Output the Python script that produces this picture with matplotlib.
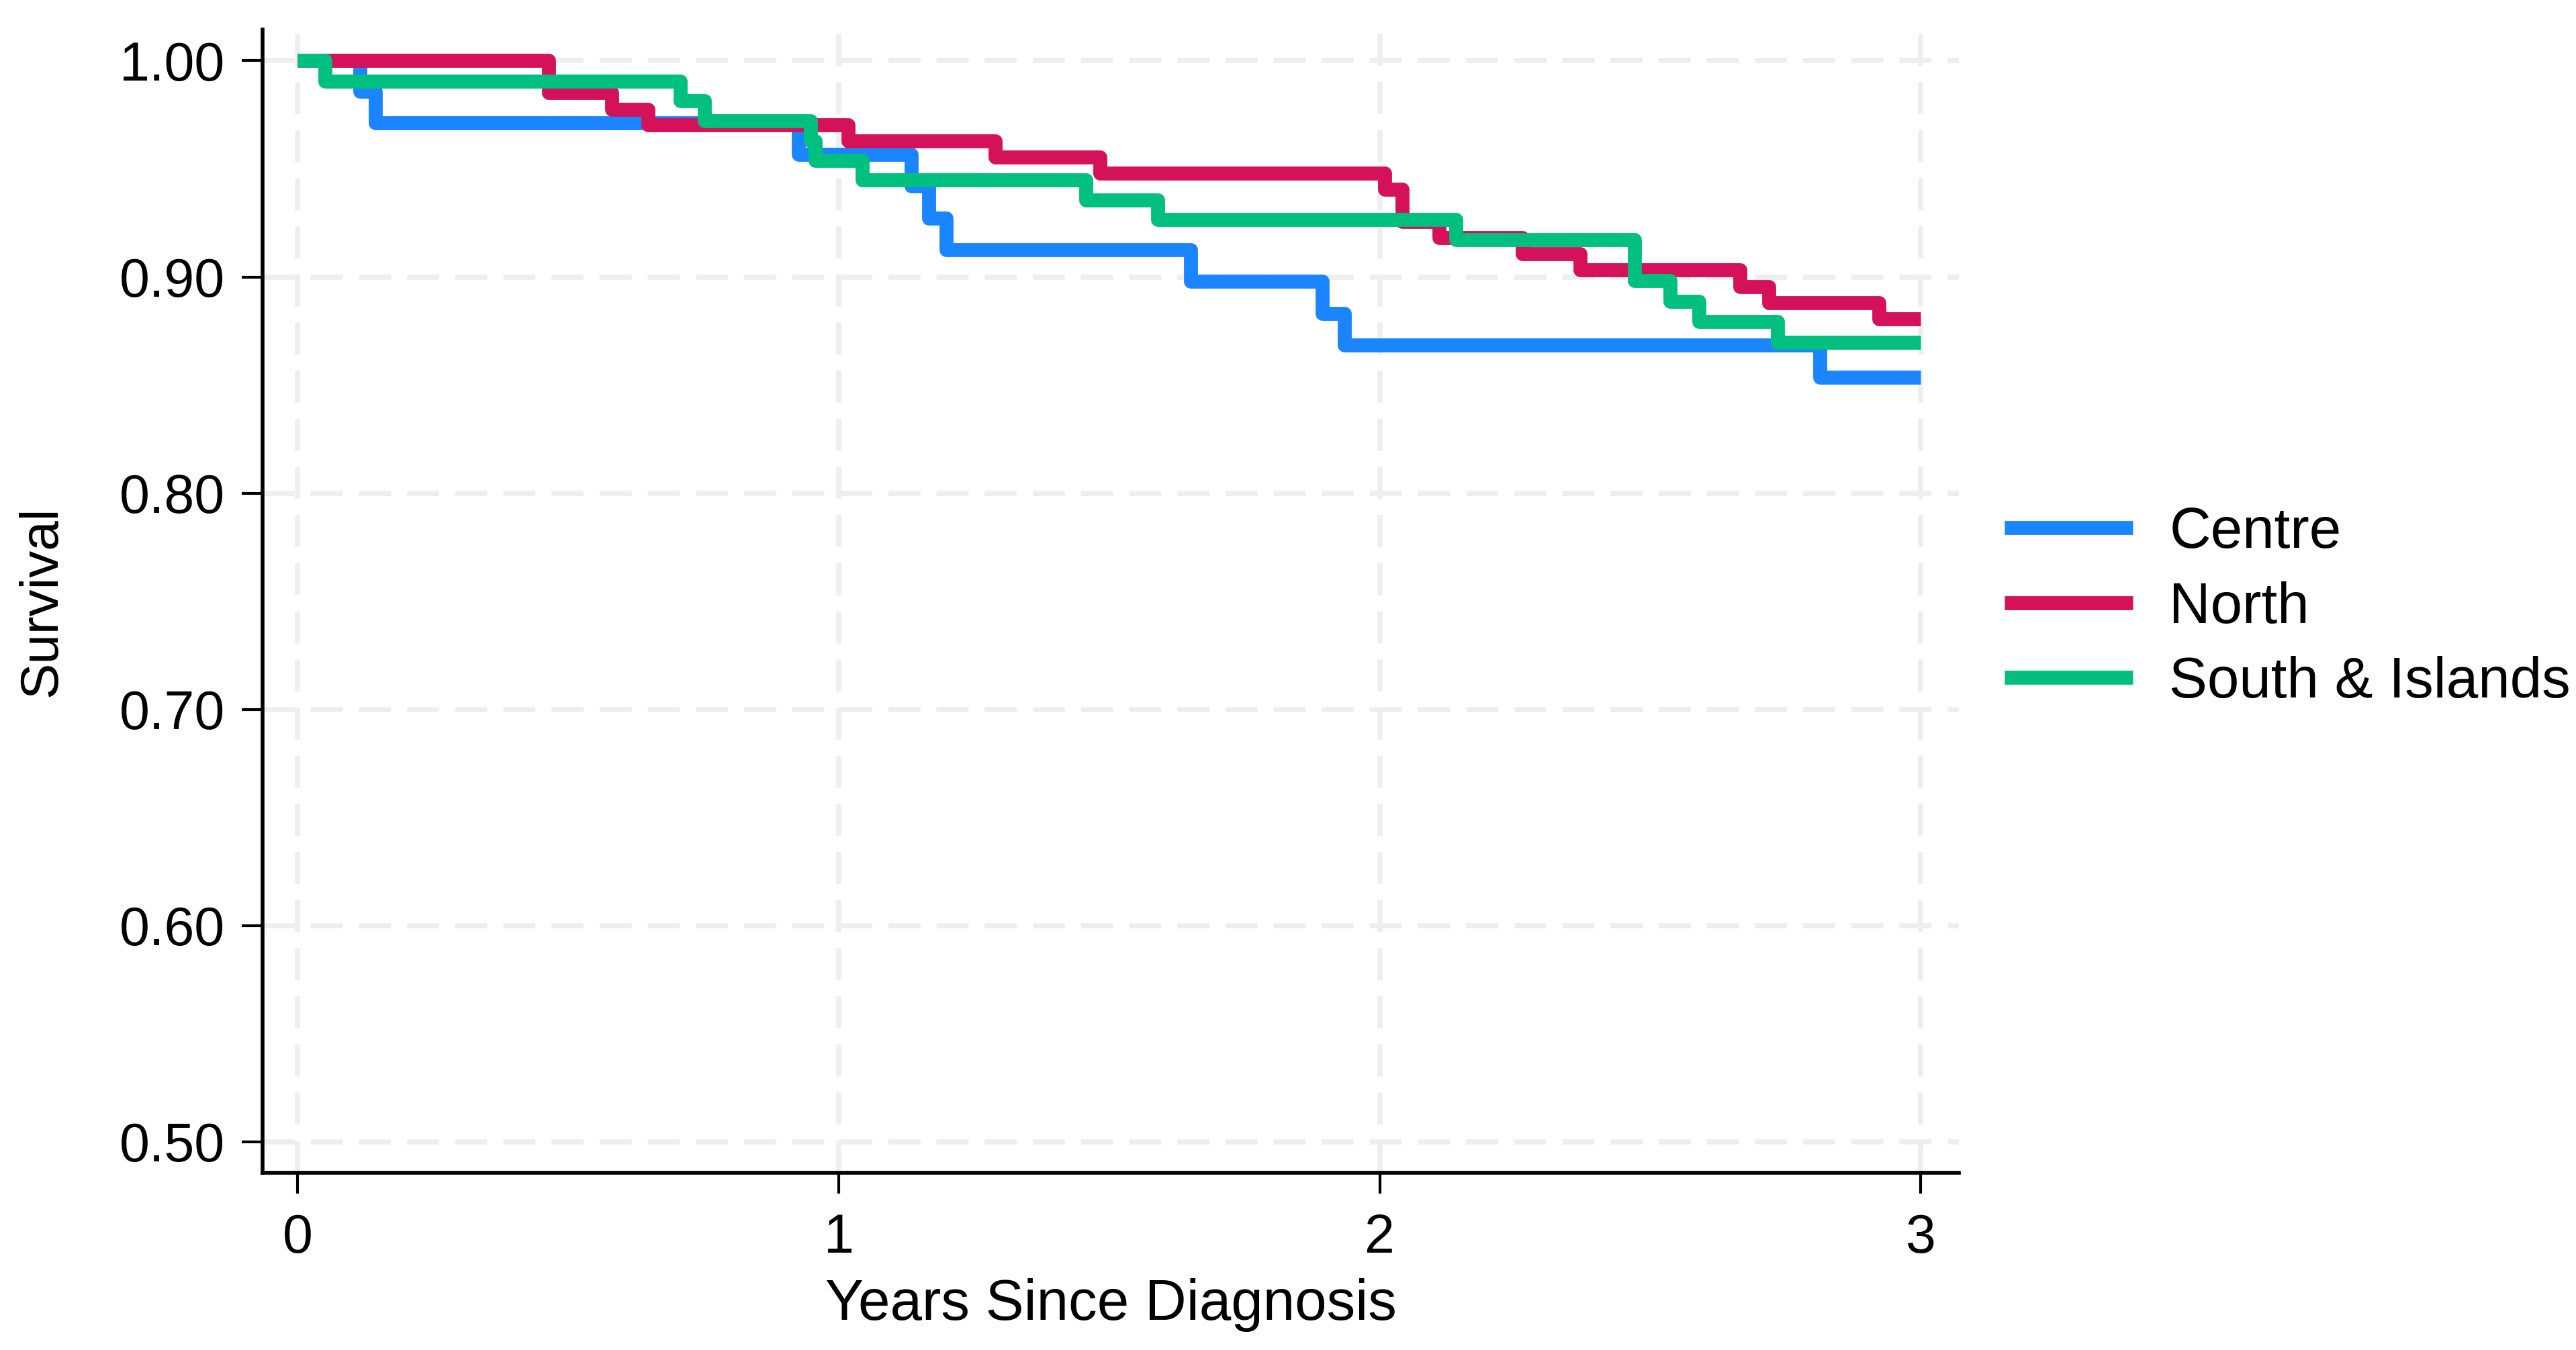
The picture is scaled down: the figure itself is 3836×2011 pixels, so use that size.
import matplotlib
matplotlib.use("Agg")
import matplotlib.pyplot as plt

plt.rcParams['font.family'] = ['Liberation Sans', 'DejaVu Sans']

# ---- data (Kaplan-Meier step functions) ----
groups = ["Centre", "North", "South & Islands"]
colors = ["#1A85FF", "#D41159", "#00BF7F"]

centre_t = [0, 0.115, 0.143, 0.925, 1.134, 1.166, 1.199, 1.650, 1.893, 1.935, 2.813, 3.0]
centre_s = [1.0, 0.9857, 0.9714, 0.9567, 0.9420, 0.9272, 0.9126, 0.8979, 0.8832, 0.8685, 0.8537, 0.8537]

north_t = [0, 0.464, 0.581, 0.648, 1.017, 1.289, 1.483, 2.009, 2.041, 2.110, 2.264, 2.370, 2.666, 2.719, 2.922, 3.0]
north_s = [1.0, 0.9852, 0.9776, 0.9703, 0.9629, 0.9555, 0.9479, 0.9405, 0.9256, 0.9182, 0.9106, 0.9032, 0.8956, 0.8882, 0.8806, 0.8806]

south_t = [0, 0.051, 0.707, 0.752, 0.948, 0.956, 1.043, 1.457, 1.589, 2.140, 2.471, 2.537, 2.590, 2.735, 3.0]
south_s = [1.0, 0.9906, 0.9815, 0.9722, 0.9630, 0.9540, 0.9448, 0.9357, 0.9265, 0.9172, 0.8982, 0.8888, 0.8795, 0.8698, 0.8698]

x_ticks = [0, 1, 2, 3]
y_ticks = [0.50, 0.60, 0.70, 0.80, 0.90, 1.00]
x_label = "Years Since Diagnosis"
y_label = "Survival"

series = [(centre_t, centre_s), (north_t, north_s), (south_t, south_s)]

# ---- figure ----
fig = plt.figure(figsize=(3837 / 300, 2011 / 300), dpi=300)
ax = fig.add_axes([0.1019, 0.1313, 0.7602 - 0.1019, 0.9781 - 0.1313])

for (t, s), name, c in zip(series, groups, colors):
    ax.step(t, s, where='post', color=c, lw=5.0, label=name,
            solid_joinstyle='round', solid_capstyle='butt', zorder=3)

ax.set_xlim(-0.065, 3.07)
ax.set_ylim(0.4857, 1.0144)
ax.set_xticks(x_ticks)
ax.set_xticklabels([str(v) for v in x_ticks])
ax.set_yticks(y_ticks)
ax.set_yticklabels([f"{v:.2f}" for v in y_ticks])

ax.grid(True, color='#EEEEEE', lw=1.85, linestyle=(0, (6.2, 3.1)), zorder=0)
ax.set_axisbelow(True)

for side in ['top', 'right']:
    ax.spines[side].set_visible(False)
for side in ['left', 'bottom']:
    ax.spines[side].set_linewidth(1.35)
    ax.spines[side].set_color('black')

ax.tick_params(axis='both', length=7.5, width=1.0, color='black', labelsize=19.4)
ax.tick_params(axis='y', pad=6)
ax.tick_params(axis='x', pad=7)

ax.set_xlabel(x_label, fontsize=20.5, labelpad=5)
ax.set_ylabel(y_label, fontsize=19.2, labelpad=18.5)

leg = ax.legend(loc='center left', bbox_to_anchor=(1.027, 0.494), frameon=False,
                fontsize=20.5, handlelength=2.24, handletextpad=0.63,
                labelspacing=0.37, borderpad=0, borderaxespad=0)
for line in leg.get_lines():
    line.set_linewidth(5.0)

fig.savefig("out.png", dpi=300, facecolor='white')
